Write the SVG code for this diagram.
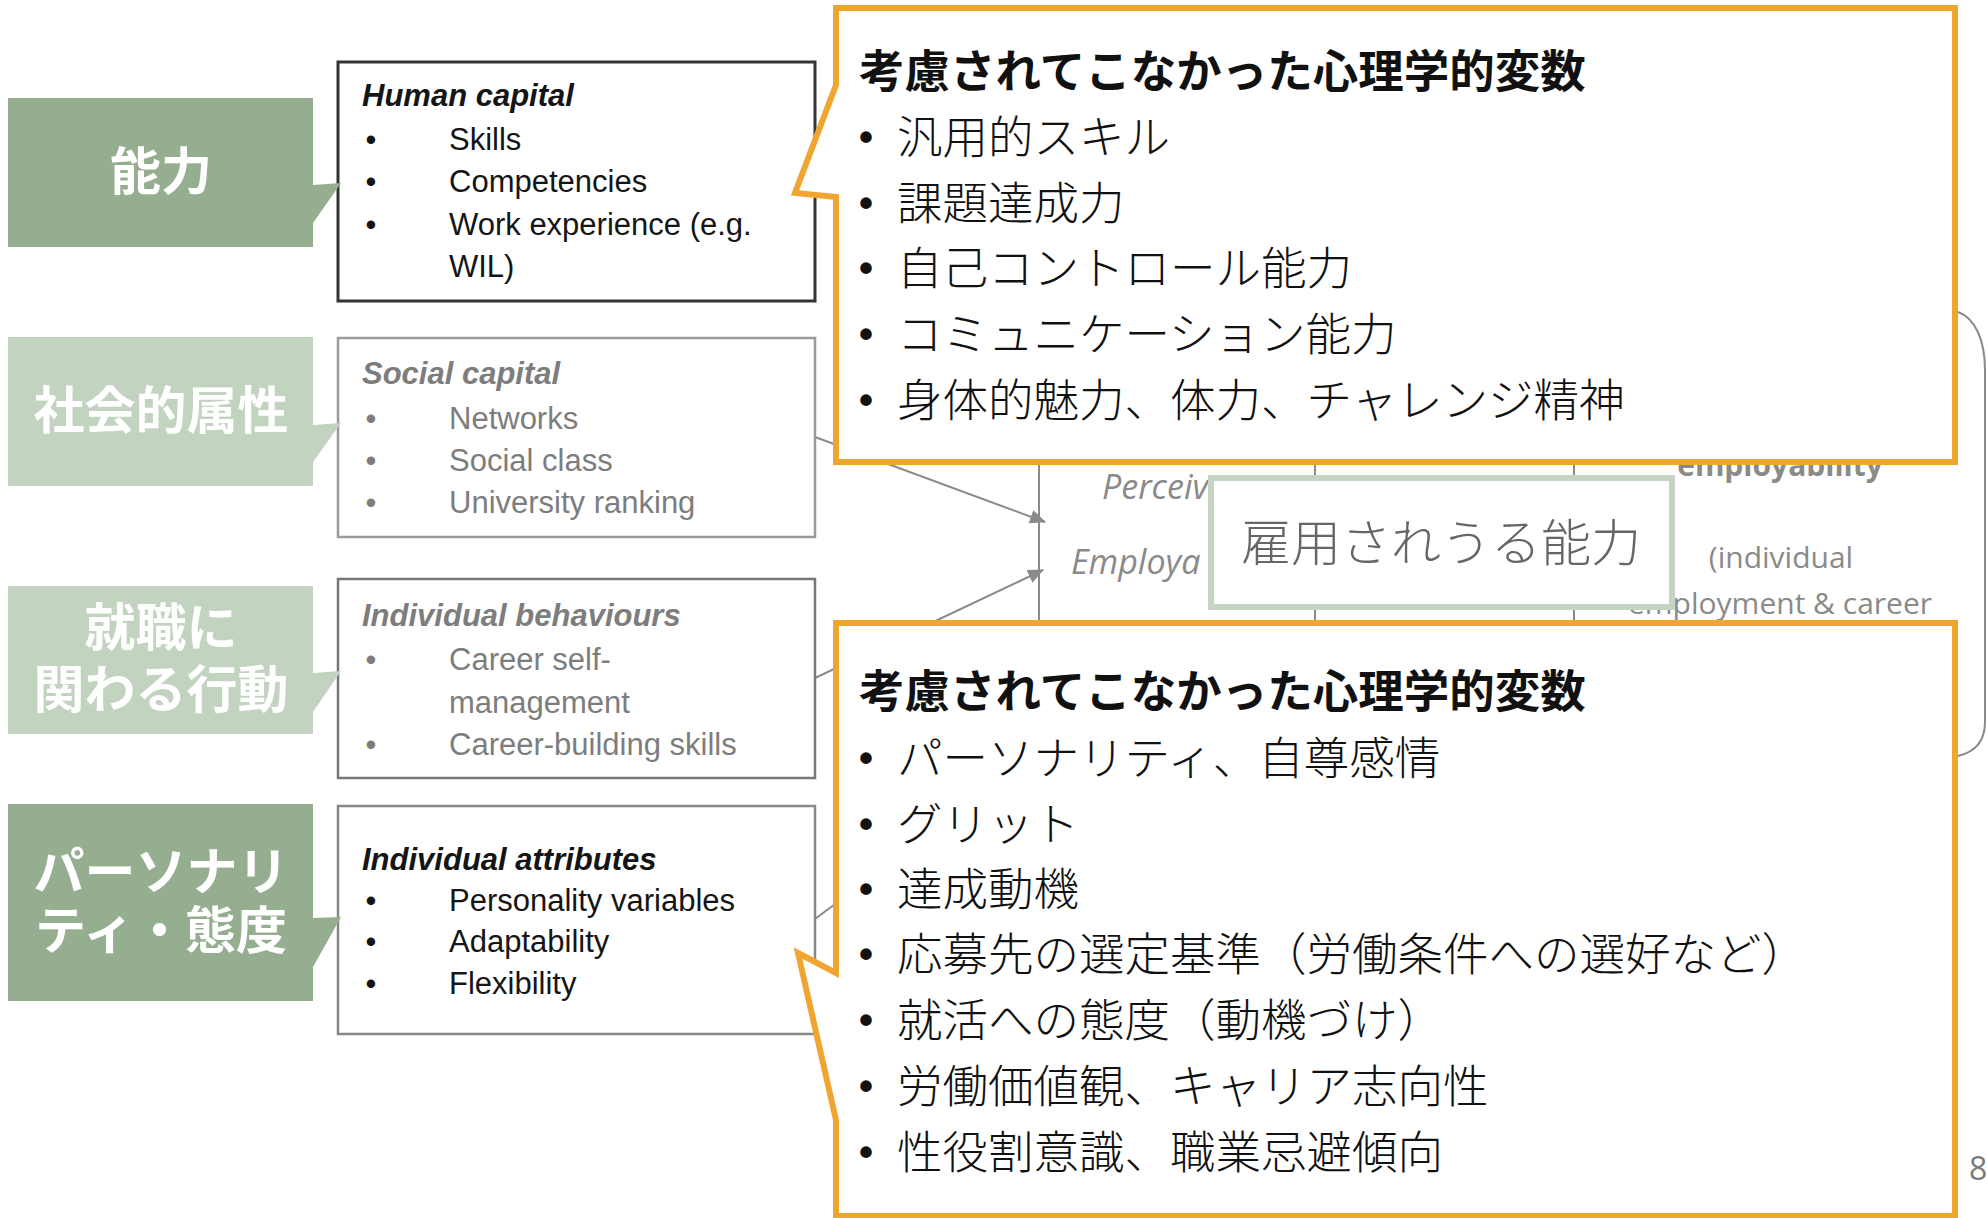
<svg xmlns="http://www.w3.org/2000/svg" width="1987" height="1218" viewBox="0 0 1987 1218">
<style>
.en{font-family:"Liberation Sans",Arial,sans-serif;font-size:31px}
.ttl{font-weight:bold;font-style:italic}
.dark{fill:#151515}
.grey{fill:#7d7d7d}
.bul{text-anchor:middle}
.lab{font-family:"Noto Sans CJK JP",sans-serif;font-size:51px;font-weight:bold;fill:#ffffff;text-anchor:middle}
.jp{font-family:"Noto Sans CJK JP",sans-serif;font-size:45.5px;font-weight:300;fill:#111}
.jpb{font-weight:bold}
.jbul{font-family:"Liberation Sans",Arial,sans-serif;font-size:40px;font-weight:bold;fill:#111;text-anchor:middle}
.bg{font-family:"Open Sans","Liberation Sans",sans-serif;font-size:30px;fill:#8a8a8a}
.it{font-style:italic;font-size:34px}
.call{fill:#ffffff;stroke:#EFA52F;stroke-width:6;stroke-linejoin:miter}
.g1{fill:#94ae8f}
.g2{fill:#c2d3c0}
.ln{stroke:#8a8a8a;stroke-width:2;fill:none}
</style>
<defs>
<marker id="ah" markerWidth="16" markerHeight="14" refX="15" refY="7" orient="auto" markerUnits="userSpaceOnUse">
<path d="M0,0 L16,7 L0,14 Z" fill="#8a8a8a"/>
</marker>
</defs>
<rect x="0" y="0" width="1987" height="1218" fill="#ffffff"/>

<g id="background">
<text class="bg it" x="1102" y="499">Perceiv</text>
<text class="bg it" x="1071" y="574">Employa</text>
<text class="bg" x="1780" y="476" font-weight="bold" text-anchor="middle">employability</text>
<text class="bg" x="1781" y="568" text-anchor="middle">(individual</text>
<text class="bg" x="1780" y="614" text-anchor="middle">employment &amp; career</text>
<path class="ln" d="M1958,312 C1975,318 1985,340 1985,370 L1985,722 C1985,742 1975,752 1958,756" stroke-width="3"/>
<text x="1969" y="1180" font-family="Open Sans,Liberation Sans,sans-serif" font-size="32" fill="#7a7a7a">8</text>
</g>

<g id="connectors">
<line class="ln" x1="1039" y1="460" x2="1039" y2="626"/>
<line class="ln" x1="1315" y1="460" x2="1315" y2="626"/>
<line class="ln" x1="1574" y1="460" x2="1574" y2="626"/>
<line class="ln" x1="815" y1="437" x2="1045" y2="522" marker-end="url(#ah)"/>
<line class="ln" x1="815" y1="678" x2="1043" y2="570" marker-end="url(#ah)"/>
<line class="ln" x1="815" y1="919" x2="870" y2="878"/>
</g>

<g id="human-capital">
<rect x="338" y="62" width="477" height="239" fill="#ffffff" stroke="#333" stroke-width="3"/>
<text class="en ttl dark" x="362" y="106">Human capital</text>
<text class="en dark bul" x="371" y="150">•</text><text class="en dark" x="449" y="150">Skills</text>
<text class="en dark bul" x="371" y="192">•</text><text class="en dark" x="449" y="192">Competencies</text>
<text class="en dark bul" x="371" y="235">•</text><text class="en dark" x="449" y="235">Work experience (e.g.</text>
<text class="en dark" x="449" y="277">WIL)</text>
</g>

<g id="social-capital">
<rect x="338" y="338" width="477" height="199" fill="#ffffff" stroke="#9a9a9a" stroke-width="2.5"/>
<text class="en ttl grey" x="362" y="384">Social capital</text>
<text class="en grey bul" x="371" y="429">•</text><text class="en grey" x="449" y="429">Networks</text>
<text class="en grey bul" x="371" y="471">•</text><text class="en grey" x="449" y="471">Social class</text>
<text class="en grey bul" x="371" y="513">•</text><text class="en grey" x="449" y="513">University ranking</text>
</g>

<g id="individual-behaviours">
<rect x="338" y="579" width="477" height="199" fill="#ffffff" stroke="#777" stroke-width="2.5"/>
<text class="en ttl grey" x="362" y="626">Individual behaviours</text>
<text class="en grey bul" x="371" y="670">•</text><text class="en grey" x="449" y="670">Career self-</text>
<text class="en grey" x="449" y="713">management</text>
<text class="en grey bul" x="371" y="755">•</text><text class="en grey" x="449" y="755">Career-building skills</text>
</g>

<g id="individual-attributes">
<rect x="338" y="806" width="477" height="228" fill="#ffffff" stroke="#888" stroke-width="2.5"/>
<text class="en ttl dark" x="362" y="870">Individual attributes</text>
<text class="en dark bul" x="371" y="911">•</text><text class="en dark" x="449" y="911">Personality variables</text>
<text class="en dark bul" x="371" y="952">•</text><text class="en dark" x="449" y="952">Adaptability</text>
<text class="en dark bul" x="371" y="994">•</text><text class="en dark" x="449" y="994">Flexibility</text>
</g>

<g id="label-noryoku">
<path class="g1" d="M8,98 L313,98 L313,185 L341,183 L313,223 L313,247 L8,247 Z"/>
<text class="lab" x="161" y="190">能力</text>
</g>
<g id="label-shakai">
<path class="g2" d="M8,337 L313,337 L313,425 L341,423 L313,462 L313,486 L8,486 Z"/>
<text class="lab" x="161" y="429">社会的属性</text>
</g>
<g id="label-shushoku">
<path class="g2" d="M8,586 L313,586 L313,673 L341,671 L313,712 L313,734 L8,734 Z"/>
<text class="lab" x="161" y="646">就職に</text>
<text class="lab" x="161" y="708">関わる行動</text>
</g>
<g id="label-personality">
<path class="g1" d="M8,804 L313,804 L313,918 L341,917 L313,967 L313,1001 L8,1001 Z"/>
<text class="lab" x="161" y="890">パーソナリ</text>
<text class="lab" x="161" y="949">ティ・態度</text>
</g>

<g id="employability-box">
<rect x="1211" y="478" width="461" height="129" fill="#ffffff" stroke="#c5d5c3" stroke-width="6"/>
<text x="1441" y="561" font-family="Noto Sans CJK JP,sans-serif" font-size="50" font-weight="300" fill="#666" text-anchor="middle">雇用されうる能力</text>
</g>

<g id="callout-top">
<path class="call" d="M836,8 L1955,8 L1955,462 L836,462 L836,197 L795,193 L836,85 Z"/>
<text class="jp jpb" x="859" y="88">考慮されてこなかった心理学的変数</text>
<text class="jbul" x="866" y="151">•</text><text class="jp" x="897" y="154">汎用的スキル</text>
<text class="jbul" x="866" y="217">•</text><text class="jp" x="897" y="220">課題達成力</text>
<text class="jbul" x="866" y="282">•</text><text class="jp" x="897" y="285">自己コントロール能力</text>
<text class="jbul" x="866" y="348">•</text><text class="jp" x="897" y="351">コミュニケーション能力</text>
<text class="jbul" x="866" y="414">•</text><text class="jp" x="897" y="417">身体的魅力、体力、チャレンジ精神</text>
</g>

<g id="callout-bottom">
<path class="call" d="M836,623 L1955,623 L1955,1216 L836,1216 L836,1120 L798,953 L836,973 Z"/>
<text class="jp jpb" x="859" y="708">考慮されてこなかった心理学的変数</text>
<text class="jbul" x="866" y="772">•</text><text class="jp" x="897" y="775">パーソナリティ、自尊感情</text>
<text class="jbul" x="866" y="838">•</text><text class="jp" x="897" y="841">グリット</text>
<text class="jbul" x="866" y="903">•</text><text class="jp" x="897" y="906">達成動機</text>
<text class="jbul" x="866" y="968">•</text><text class="jp" x="897" y="971">応募先の選定基準（労働条件への選好など）</text>
<text class="jbul" x="866" y="1034">•</text><text class="jp" x="897" y="1037">就活への態度（動機づけ）</text>
<text class="jbul" x="866" y="1100">•</text><text class="jp" x="897" y="1103">労働価値観、キャリア志向性</text>
<text class="jbul" x="866" y="1166">•</text><text class="jp" x="897" y="1169">性役割意識、職業忌避傾向</text>
</g>
</svg>
